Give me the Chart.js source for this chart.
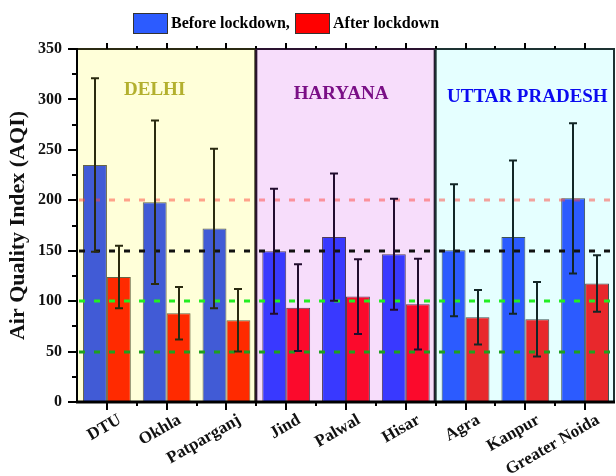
<!DOCTYPE html>
<html>
<head>
<meta charset="utf-8">
<script src="https://cdn.jsdelivr.net/npm/chart.js@4.4.1/dist/chart.umd.min.js"></script>
<style>
  html, body { margin: 0; padding: 0; background: #ffffff; }
  #wrap { width: 616px; height: 476px; position: relative; }
</style>
</head>
<body>
<div id="wrap"><canvas id="aqi"></canvas></div>
<script>
// Monitoring stations
const stations = ['DTU', 'Okhla', 'Patparganj', 'Jind', 'Palwal', 'Hisar', 'Agra', 'Kanpur', 'Greater Noida'];
// Mean AQI and its spread, before and after the lockdown
const beforeAQI = [235, 198, 172, 149.5, 163.5, 146.5, 150.5, 163.5, 202];
const beforeSD  = [86, 81, 79, 62, 63, 55, 65.5, 76, 74.5];
const afterAQI  = [124, 88, 81, 93.5, 104.5, 97, 84, 82, 117.5];
const afterSD   = [31, 26, 31, 43, 37, 45, 27, 37, 28];
// States and how many stations each one covers (in order)
const stateNames = ['DELHI', 'HARYANA', 'UTTAR PRADESH'];
const stateCounts = [3, 3, 3];
// AQI category limits shown as guide lines
const guideLevels = [200, 150, 100, 50];
const yTicks = [0, 50, 100, 150, 200, 250, 300, 350];
const seriesNames = ['Before lockdown,', 'After lockdown'];

// Styling per state
const stateStyle = [
  { bg: '#ffffd9', title: '#b3b02e', frame: '#2b2a12', err: '#2a2a10', blue: '#415bd6', red: '#ff2a00', edge: 'rgba(50,50,20,0.75)', tx: -12, ty: 90 },
  { bg: '#f7ddfb', title: '#7a0f86', frame: '#2a1230', err: '#220c2e', blue: '#3939ff', red: '#fb0a2c', edge: 'rgba(40,20,50,0.8)', tx: -5, ty: 94 },
  { bg: '#e5ffff', title: '#0a0af0', frame: '#1d3232', err: '#122626', blue: '#2c5bff', red: '#e8282c', edge: 'rgba(20,40,40,0.8)', tx: 2, ty: 97 }
];
const guideStyle = [
  { color: 'rgba(255,70,60,0.5)', dash: [6, 9] },
  { color: '#111111', dash: [6, 9] },
  { color: '#22ee22', dash: [6, 9] },
  { color: '#1fa01f', dash: [6, 9] }
];
const SERIF = '"Liberation Serif", "Times New Roman", serif';

// state index of each station
const stateOf = [];
stateCounts.forEach((n, s) => { for (let i = 0; i < n; i++) stateOf.push(s); });

const blueFill = stateOf.map(s => stateStyle[s].blue);
const redFill = stateOf.map(s => stateStyle[s].red);
const edges = stateOf.map(s => stateStyle[s].edge);

function catEdges(xs, i) {
  const c = xs.getPixelForValue(i);
  const half = (xs.getPixelForValue(1) - xs.getPixelForValue(0)) / 2;
  return [c - half, c + half];
}

const panels = {
  id: 'panels',
  beforeDatasetsDraw(chart) {
    const { ctx, chartArea: a, scales: { x } } = chart;
    let start = 0;
    stateCounts.forEach((n, s) => {
      const l = catEdges(x, start)[0], r = catEdges(x, start + n - 1)[1];
      ctx.save();
      ctx.fillStyle = stateStyle[s].bg;
      ctx.fillRect(l, a.top, r - l, a.bottom - a.top);
      ctx.fillStyle = stateStyle[s].title;
      ctx.font = 'bold 19px ' + SERIF;
      ctx.textAlign = 'center';
      ctx.textBaseline = 'middle';
      ctx.fillText(stateNames[s], (l + r) / 2 + stateStyle[s].tx, stateStyle[s].ty);
      ctx.restore();
      start += n;
    });
  },
  afterDatasetsDraw(chart) {
    const { ctx, chartArea: a, scales: { x, y } } = chart;
    // guide lines
    guideLevels.forEach((v, k) => {
      const py = Math.round(y.getPixelForValue(v));
      ctx.save();
      ctx.strokeStyle = guideStyle[k].color;
      ctx.lineWidth = 3;
      ctx.setLineDash(guideStyle[k].dash);
      ctx.beginPath();
      ctx.moveTo(a.left + 2, py);
      ctx.lineTo(a.right, py);
      ctx.stroke();
      ctx.restore();
    });
    // error bars
    const sets = [[beforeAQI, beforeSD], [afterAQI, afterSD]];
    sets.forEach(([vals, sd], d) => {
      const meta = chart.getDatasetMeta(d);
      meta.data.forEach((bar, i) => {
        const top = y.getPixelForValue(vals[i] + sd[i]);
        const bot = y.getPixelForValue(vals[i] - sd[i]);
        const cx = Math.round(bar.x);
        ctx.save();
        ctx.strokeStyle = stateStyle[stateOf[i]].err;
        ctx.lineWidth = 2;
        ctx.beginPath();
        ctx.moveTo(cx, top); ctx.lineTo(cx, bot);
        ctx.moveTo(cx - 4, top); ctx.lineTo(cx + 4, top);
        ctx.moveTo(cx - 4, bot); ctx.lineTo(cx + 4, bot);
        ctx.stroke();
        ctx.restore();
      });
    });
  },
  afterDraw(chart) {
    const { ctx, chartArea: a, scales: { x, y } } = chart;
    // state frames
    let start = 0;
    stateCounts.forEach((n, s) => {
      const l = catEdges(x, start)[0], r = catEdges(x, start + n - 1)[1];
      ctx.save();
      ctx.strokeStyle = stateStyle[s].frame;
      ctx.lineWidth = 2;
      ctx.strokeRect(l, a.top, r - l - 1, a.bottom - a.top);
      ctx.restore();
      start += n;
    });
    ctx.save();
    ctx.strokeStyle = '#000000';
    ctx.lineWidth = 2;
    // left and bottom axes
    ctx.beginPath();
    ctx.moveTo(a.left, a.top - 1); ctx.lineTo(a.left, a.bottom + 1);
    ctx.stroke();
    ctx.lineWidth = 3;
    ctx.beginPath();
    ctx.moveTo(a.left - 1, a.bottom); ctx.lineTo(a.right, a.bottom);
    ctx.stroke();
    ctx.lineWidth = 2;
    // y ticks, major every 50 and minor in between
    for (let v = 0; v <= 350; v += 25) {
      const py = Math.round(y.getPixelForValue(v));
      const len = v % 50 === 0 ? 9 : 5;
      ctx.beginPath();
      ctx.moveTo(a.left, py); ctx.lineTo(a.left - len, py);
      ctx.stroke();
    }
    // x ticks at stations and between them, bottom and top
    stations.forEach((_, i) => {
      const c = Math.round(x.getPixelForValue(i));
      const b = Math.round(catEdges(x, i)[0]);
      ctx.beginPath();
      ctx.moveTo(c, a.bottom); ctx.lineTo(c, a.bottom + 8);
      ctx.moveTo(c, a.top); ctx.lineTo(c, a.top - 6);
      if (i > 0) {
        ctx.moveTo(b, a.bottom); ctx.lineTo(b, a.bottom + 4);
        ctx.moveTo(b, a.top); ctx.lineTo(b, a.top - 3);
      }
      ctx.stroke();
    });
    ctx.restore();
    // legend
    const items = [[stateStyle[2].blue, 133], ['#ff0000', 295]];
    ctx.save();
    ctx.font = 'bold 16px ' + SERIF;
    ctx.textBaseline = 'middle';
    items.forEach(([col, bx], k) => {
      ctx.fillStyle = col;
      ctx.fillRect(bx, 13, 35, 21);
      ctx.strokeStyle = '#333333';
      ctx.lineWidth = 1;
      ctx.strokeRect(bx + 0.5, 13.5, 34, 20);
      ctx.fillStyle = '#000000';
      ctx.fillText(seriesNames[k], bx + 38, 24);
    });
    ctx.restore();
  }
};

new Chart(document.getElementById('aqi'), {
  type: 'bar',
  data: {
    labels: stations,
    datasets: [
      { label: seriesNames[0], data: beforeAQI, backgroundColor: blueFill, borderColor: edges, borderWidth: 1,
        categoryPercentage: 0.8, barPercentage: 1.0 },
      { label: seriesNames[1], data: afterAQI, backgroundColor: redFill, borderColor: edges, borderWidth: 1,
        categoryPercentage: 0.8, barPercentage: 1.0 }
    ]
  },
  options: {
    responsive: true,
    maintainAspectRatio: false,
    animation: false,
    devicePixelRatio: 1,
    layout: { padding: { top: 49, right: 1, left: 0, bottom: 0 } },
    plugins: { legend: { display: false }, tooltip: { enabled: false } },
    scales: {
      x: {
        grid: { display: false, drawTicks: false },
        border: { display: false },
        ticks: {
          color: '#111111', font: { family: SERIF, size: 17, weight: 'bold' },
          minRotation: 30, maxRotation: 30, padding: 8, labelOffset: 13, autoSkip: false
        },
        afterFit(s) { s.height = 74; }
      },
      y: {
        min: 0, max: 350,
        afterBuildTicks(s) { s.ticks = yTicks.map(v => ({ value: v })); },
        grid: { display: false, drawTicks: false },
        border: { display: false },
        ticks: { color: '#111111', font: { family: SERIF, size: 16, weight: 'bold' }, padding: 15 },
        title: {
          display: true, text: 'Air Quality Index (AQI)', color: '#111111',
          font: { family: SERIF, size: 22, weight: 'bold' }, padding: { top: 5, bottom: 0 }
        },
        afterFit(s) { s.width = 77; }
      }
    }
  },
  plugins: [panels]
});
</script>
</body>
</html>
